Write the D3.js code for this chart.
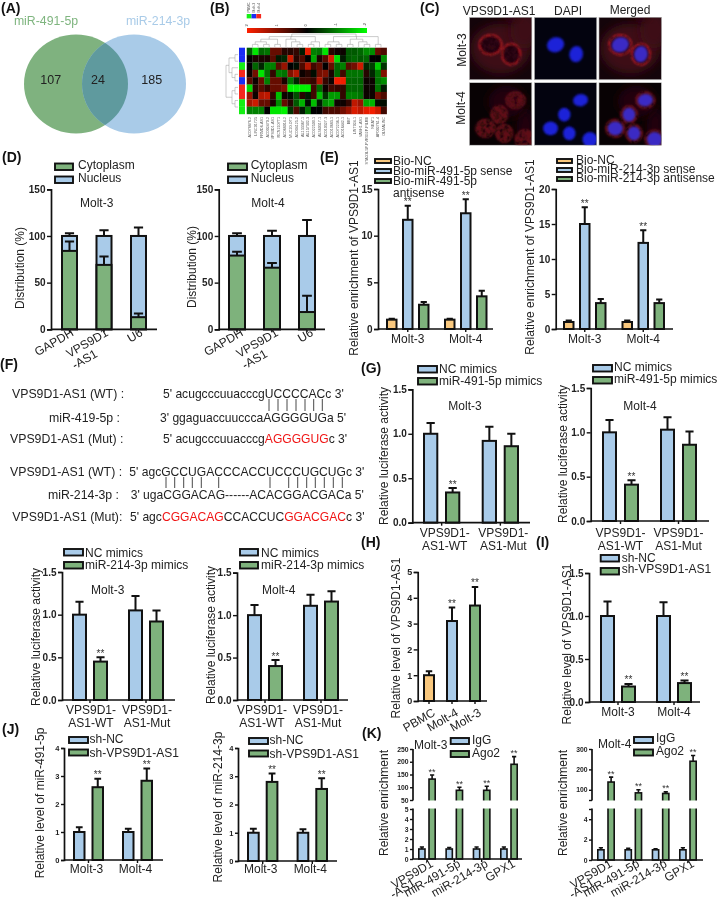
<!DOCTYPE html>
<html>
<head>
<meta charset="utf-8">
<script src="https://cdn.jsdelivr.net/npm/d3@7"></script>
<style>
  body { margin: 0; background: #fff; }
  svg { display: block; font-family: "Liberation Sans", Arial, sans-serif; filter: blur(0.35px); }
</style>
</head>
<body>
<div id="chart"></div>
<script>
// colours
var blue = "#a9cbe9", green = "#7eb27c", orange = "#f9c87e";

// (A) venn
var vennNames = ["miR-491-5p", "miR-214-3p"];
var vennCounts = [107, 24, 185];

// (B) heatmap
var heatGroups = ["PBMC", "Molt-3", "Molt-4"];
var heatRowGroup = ["Molt-3", "Molt-3", "PBMC", "Molt-4", "Molt-3", "Molt-4", "Molt-4", "PBMC", "PBMC"];
var heatCols = ["AC078876.2", "LINC01725", "FRMD6-AS1", "AC002470.2", "VPS9D1-AS1", "RCN2107T1", "AC068014.2", "MUC20-OT1",
  "AC094125.2", "AL133367.1", "AL157392.3", "AC022509.1", "AL360317.1", "AC010327.3", "AC019683.1", "AC072236.1",
  "AC016442.1", "BBT", "LINT024.1", "VASH1-AS1", "STAG3L5P-PVRIG2P-PILRB", "NEAT1", "AP002761.4", "OLMALINC"];
var heatValues = [
  [-.7, -1.8, -.8, -.9, .8, .8, .3, .3, .4, -.2, 1.8, -1, -.9, -1.8, .3, .1, .1, -.7, -.7, -.8, -1.1, -1.1, .8, .6],
  [0, .2, .2, .2, .7, -.2, -.3, 1.6, .3, .6, 0, -1.3, .2, .7, 1.7, -1.7, -.2, -.7, -.8, -.7, -.8, 0, 0, -1.1],
  [0, -.8, -.3, -1, -1, .7, 1.2, 0, -.1, .6, 1.4, .5, .8, 0, .8, -.8, -1, .7, .9, 1.6, -.3, -.5, -1.6, -.4],
  [.1, .9, -1.8, -.9, .4, -1, -.9, 1, 1.4, .1, .3, -.1, .9, 1, .2, -.8, .5, -.9, -.9, -.9, .3, -.3, -.9, 1],
  [.7, .1, .8, -1, .8, .8, .2, -.9, -.3, .5, .5, .4, 1.4, .4, .1, 1.9, 1.9, -.8, -.8, -.8, .1, .1, -.9, -1.1],
  [-1.7, .3, .7, .4, .8, .8, 1, -1.9, -1.9, -1.9, -1.9, .5, -.8, .1, .5, .4, .4, -.8, -.8, -.8, .1, .1, -.9, -.2],
  [1.2, .1, 1.4, 1.5, .4, -1.5, .1, -.1, -.6, .3, -.2, .5, -1.5, -.4, -1.2, -1.2, .4, -1, -1, -.9, .1, .1, .9, .6],
  [1.3, 1.6, .8, .8, .2, -1.1, .8, .3, -.7, -1.4, -.1, -1.5, -.2, -1.1, -1.3, .1, .1, .4, 1.5, 1.2, -1.3, -1.4, -.1, -.1],
  [-1, -1, -1, 0, -1.8, -1.8, -1.9, -.4, .6, -.2, -.9, 0, 0, .5, .6, .6, .9, 1.2, 1.7, 1.5, 1.8, 1.9, 1.6, .5]
];
var colTree = [[[[[0, 1], [2, 3]], [4, 5]], [6, [7, [8, 9]]], [[10, 11], 12]], [[[13, 14], [15, 16]], [[17, 18], [19, [20, 21]]], [22, 23]]];
var rowTree = [[[0, 1], [2, [3, 4]]], [[5, 6], [7, 8]]];

// (D) distribution
var distCats = ["GAPDH", "VPS9D1\n-AS1", "U6"];
var distTotal = [100, 100, 100];
var d3Cyto = [84, 69, 13], d3CytoTop = [94, 78, 17], d3TotalTop = [103, 106, 109];
var d4Cyto = [79, 66, 18.5], d4CytoTop = [83, 71, 36], d4TotalTop = [103, 105.5, 117];

var molts = ["Molt-3", "Molt-4"];

// (E) pull down
var e491Series = ["Bio-NC", "Bio-miR-491-5p sense", "Bio-miR-491-5p\nantisense"];
var e491Values = [[1, 1], [11.7, 12.4], [2.6, 3.5]];
var e491Tops = [[1.1, 1.1], [13.2, 13.9], [2.9, 4.1]];
var e214Series = ["Bio-NC", "Bio-miR-214-3p sense", "Bio-miR-214-3p antisense"];
var e214Values = [[1, 1], [15, 12.3], [3.7, 3.7]];
var e214Tops = [[1.2, 1.2], [17.4, 14.1], [4.3, 4.2]];

// (F) sequences
var seq491 = [
  ["VPS9D1-AS1 (WT) :", "5' acugcccuuacccgUCCCCACc 3'", ""],
  ["miR-419-5p :", "3' ggaguaccuucccaAGGGGUGa 5'", ""],
  ["VPS9D1-AS1 (Mut) :", "5' acugcccuuacccg", "AGGGGUG", "c 3'"]
];
var seq214 = [
  ["VPS9D1-AS1 (WT) :", "5' agcGCCUGACCCACCUCCCUGCUGc 3'", ""],
  ["miR-214-3p :", "3' ugaCGGACAG------ACACGGACGACa 5'", ""],
  ["VPS9D1-AS1 (Mut):", "5' agc", "CGGACAG", "CCACCUC", "GGACGAC", "c 3'"]
];

// (G) luciferase
var lucCats = ["VPS9D1-\nAS1-WT", "VPS9D1-\nAS1-Mut"];
var lucSeries491 = ["NC mimics", "miR-491-5p mimics"];
var lucSeries214 = ["NC mimics", "miR-214-3p mimics"];
var g491m3 = [[1, .92], [.34, .86]], g491m3Top = [[1.12, 1.08], [.39, 1]];
var g491m4 = [[1, 1.03], [.41, .86]], g491m4Top = [[1.14, 1.17], [.46, 1.01]];
var g214m3 = [[1, 1.05], [.45, .92]], g214m3Top = [[1.15, 1.22], [.5, 1.05]];
var g214m4 = [[1, 1.11], [.4, 1.16]], g214m4Top = [[1.12, 1.24], [.47, 1.28]];

// (H) expression
var hCats = ["PBMC", "Molt-4", "Molt-3"];
var hValues = [[1, 3.1, 3.7]], hTops = [[1.15, 3.62, 4.42]];

// (I, J) knockdown
var shSeries = ["sh-NC", "sh-VPS9D1-AS1"];
var iValues = [[1, 1], [.18, .22]], iTops = [[1.17, 1.16], [.21, .25]];
var j491Values = [[1, 1], [2.6, 2.83]], j491Tops = [[1.17, 1.12], [2.9, 3.27]];
var j214Values = [[1, 1], [2.8, 2.55]], j214Tops = [[1.14, 1.12], [3.1, 2.93]];

// (K) RIP
var kCats = ["VPS9D1\n-AS1", "miR-491-5p", "miR-214-3p", "GPX1"];
var kSeries = ["IgG", "Ago2"];
var kM3 = [[1, 1, 1, 1], [132, 88, 88, 190]], kM3Top = [[1.2, 1.15, 1.2, 1.2], [148, 100, 104, 220]];
var kM4 = [[1, 1, 1, 1], [138, 85, 82, 240]], kM4Top = [[1.2, 1.15, 1.1, 1.2], [162, 100, 90, 268]];

var svg = d3.select("#chart").append("svg")
  .attr("width", 720)
  .attr("height", 903);

var defs = svg.append("defs");

function text(str, x, y, size, opts) {
  opts = opts || {};
  var t = svg.append("text")
    .attr("x", x)
    .attr("y", y)
    .attr("font-size", size)
    .attr("fill", opts.fill || "#222")
    .attr("text-anchor", opts.anchor || "start")
    .attr("font-weight", opts.weight || "normal")
    .text(str);
  if (opts.rotate) t.attr("transform", "rotate(" + opts.rotate + "," + x + "," + y + ")");
  return t;
}

// panel letters
[["(A)", 1, 13], ["(B)", 210, 13], ["(C)", 420, 13], ["(D)", 2, 162], ["(E)", 320, 162], ["(F)", 0, 369],
 ["(G)", 361, 373], ["(H)", 361, 547], ["(I)", 536, 547], ["(J)", 2, 734], ["(K)", 362, 738]].forEach(function(d) {
  text(d[0], d[1], d[2], 14, {weight: "bold", fill: "#111"});
});

/* ---------- A: venn ---------- */
var vennX = d3.scaleLinear().domain([0, 1]).range([76, 134]);
defs.append("clipPath").attr("id", "vennLeft")
  .append("ellipse").attr("cx", vennX(0)).attr("cy", 84).attr("rx", 52).attr("ry", 49.5);
svg.selectAll(".venn").data([[0, "#7fb27f"], [1, "#a9cbe8"]]).enter().append("ellipse")
  .attr("class", "venn")
  .attr("cx", function(d) { return vennX(d[0]); })
  .attr("cy", 84).attr("rx", 52).attr("ry", 49.5)
  .style("fill", function(d) { return d[1]; });
svg.append("ellipse")
  .attr("clip-path", "url(#vennLeft)")
  .attr("cx", vennX(1)).attr("cy", 84).attr("rx", 52).attr("ry", 49.5)
  .style("fill", "#5f9a9e");
text(vennNames[0], 46, 25, 12.3, {anchor: "middle", fill: "#7fb57f"});
text(vennNames[1], 158, 25, 12.3, {anchor: "middle", fill: "#a9cbe8"});
[50.7, 98, 151.7].forEach(function(x, i) {
  text(vennCounts[i], x, 83.5, 12.5, {anchor: "middle"});
});

/* ---------- B: heatmap ---------- */
var heatX = d3.scaleBand().domain(d3.range(heatCols.length)).range([246.7, 386.7]);
var heatY = d3.scaleBand().domain(d3.range(heatValues.length)).range([47.7, 114]);
var heatColor = d3.scaleLinear().domain([-2, 0, 2]).range(["#00ff00", "#000000", "#ff2000"]);
var groupColor = d3.scaleOrdinal().domain(heatGroups).range(["#14f014", "#1a2cf5", "#f5281e"]);

heatValues.forEach(function(row, r) {
  svg.selectAll(".h" + r).data(row).enter().append("rect")
    .attr("class", "h" + r)
    .attr("x", function(d, c) { return heatX(c); })
    .attr("y", heatY(r))
    .attr("width", heatX.bandwidth() + 0.2)
    .attr("height", heatY.bandwidth() + 0.2)
    .style("fill", function(d) { return heatColor(d); });
});

// row colour strip
svg.selectAll(".strip").data(heatRowGroup).enter().append("rect")
  .attr("class", "strip")
  .attr("x", 239).attr("width", 6)
  .attr("y", function(d, i) { return heatY(i); })
  .attr("height", heatY.bandwidth() + 0.2)
  .style("fill", function(d) { return groupColor(d); });

// column names
svg.selectAll(".colName").data(heatCols).enter().append("text")
  .attr("class", "colName")
  .attr("font-size", 3.7)
  .attr("fill", "#555")
  .attr("text-anchor", "end")
  .attr("transform", function(d, i) {
    return "translate(" + (heatX(i) + 4.3) + ",117) rotate(-90)";
  })
  .text(function(d) { return d; });

// dendrograms
function tree(nested, w, h) {
  var root = d3.hierarchy(nested, function(d) { return Array.isArray(d) ? d : null; });
  d3.cluster().size([w, h]).separation(function() { return 1; })(root);
  return root;
}
var bw = heatX.bandwidth();
var colRoot = tree(colTree, 140 - bw, 13);
svg.append("g").attr("transform", "translate(" + (246.7 + bw / 2) + ",34)")
  .selectAll("path").data(colRoot.links()).enter().append("path")
  .attr("d", function(l) { return "M" + l.source.x + "," + l.source.y + "H" + l.target.x + "V" + l.target.y; })
  .style("fill", "none").style("stroke", "#999").style("stroke-width", 0.5);
var rowRoot = tree(rowTree, 66.3 - heatY.bandwidth(), 12);
svg.append("g").attr("transform", "translate(226," + (47.7 + heatY.bandwidth() / 2) + ")")
  .selectAll("path").data(rowRoot.links()).enter().append("path")
  .attr("d", function(l) { return "M" + l.source.y + "," + l.source.x + "V" + l.target.x + "H" + l.target.y; })
  .style("fill", "none").style("stroke", "#999").style("stroke-width", 0.5);

// colour key and group key
var grad = defs.append("linearGradient").attr("id", "heatKey");
[[0, "#ff2000"], [.5, "#000000"], [1, "#00ff00"]].forEach(function(s) {
  grad.append("stop").attr("offset", s[0]).attr("stop-color", s[1]);
});
svg.append("rect").attr("x", 247).attr("y", 28).attr("width", 120).attr("height", 5).style("fill", "url(#heatKey)");
var keyX = d3.scaleLinear().domain([2, -2]).range([247, 365]);
[2, 1, 0, -1, -2].forEach(function(v) {
  text(v, keyX(v) + 1, 26.5, 4, {rotate: -90, fill: "#444"});
});
heatGroups.forEach(function(g, i) {
  svg.append("rect").attr("x", 246.7 + i * 4.8).attr("y", 14).attr("width", 4.8).attr("height", 4.4).style("fill", groupColor(g));
  text(g, 250.2 + i * 4.8, 12.5, 3.5, {rotate: -90, fill: "#444"});
});

/* ---------- C: micrographs ---------- */
var micColX = [469.3, 534.3, 599], micRowY = [17.3, 82.7];
var nuclei = [
  [[34, 44, 14, 12, -20], [67, 59, 11, 13, 10]],
  [[74, 28, 12, 10, -10], [48, 51, 10, 11, 0], [26, 73, 12, 11, 0], [56, 81, 10, 11, 0], [89, 91, 12, 12, 0]]
];
var micHaze = [
  [[50, 50, 48, 40], [88, 20, 22, 30], [66, 0, 14, 5]],
  [[90, 70, 14, 30], [60, 30, 30, 25]]
];
var blur = defs.append("filter").attr("id", "soft").attr("x", "-50%").attr("y", "-50%").attr("width", "200%").attr("height", "200%");
blur.append("feGaussianBlur").attr("stdDeviation", 0.9);
var blurBig = defs.append("filter").attr("id", "softBig").attr("x", "-50%").attr("y", "-50%").attr("width", "200%").attr("height", "200%");
blurBig.append("feGaussianBlur").attr("stdDeviation", 5);
// mottled stain inside the cells
var mottle = defs.append("filter").attr("id", "mottle").attr("x", "-30%").attr("y", "-30%").attr("width", "160%").attr("height", "160%");
mottle.append("feGaussianBlur").attr("in", "SourceGraphic").attr("stdDeviation", 1.1).attr("result", "b");
mottle.append("feTurbulence").attr("type", "fractalNoise").attr("baseFrequency", 0.22).attr("numOctaves", 2).attr("seed", 4);
mottle.append("feGaussianBlur").attr("stdDeviation", 0.6);
mottle.append("feColorMatrix").attr("values", "0 0 0 0 0  0 0 0 0 0  0 0 0 0 0  1.6 0 0 0 0").attr("result", "n");
mottle.append("feComposite").attr("in", "b").attr("in2", "n").attr("operator", "in");

micRowY.forEach(function(py, r) {
  micColX.forEach(function(px, c) {
    var sx = d3.scaleLinear().domain([0, 100]).range([px, px + 62.5]);
    var sy = d3.scaleLinear().domain([0, 100]).range([py, py + 62.5]);
    var scale = 0.625;
    var id = "mic" + r + c;
    defs.append("clipPath").attr("id", id).append("rect").attr("x", px).attr("y", py).attr("width", 62.5).attr("height", 62.5);
    var g = svg.append("g").attr("clip-path", "url(#" + id + ")");
    g.append("rect").attr("x", px).attr("y", py).attr("width", 62.5).attr("height", 62.5)
      .style("fill", c == 1 ? "#03030f" : (r == 0 ? "#14040a" : "#080204"));
    if (c != 1) {
      g.selectAll(".haze").data(micHaze[r]).enter().append("ellipse")
        .attr("cx", function(d) { return sx(d[0]); })
        .attr("cy", function(d) { return sy(d[1]); })
        .attr("rx", function(d) { return d[2] * scale; })
        .attr("ry", function(d) { return d[3] * scale; })
        .attr("filter", "url(#softBig)")
        .style("fill", r == 0 ? "#3c0e16" : "#22050a");
      g.selectAll(".ring").data(nuclei[r]).enter().append("ellipse")
        .attr("cx", function(d) { return sx(d[0]); })
        .attr("cy", function(d) { return sy(d[1]); })
        .attr("rx", function(d) { return (d[2] + 4) * scale; })
        .attr("ry", function(d) { return (d[3] + 4) * scale; })
        .attr("filter", "url(#mottle)")
        .style("fill", r == 0 ? "#22060a" : "#5e0e18")
        .style("stroke", r == 0 ? "#b01c24" : "#6a1018")
        .style("stroke-width", r == 0 ? 1.7 : 1);
    }
    if (c != 0) {
      g.selectAll(".nuc").data(nuclei[r]).enter().append("ellipse")
        .attr("cx", function(d) { return sx(d[0]); })
        .attr("cy", function(d) { return sy(d[1]); })
        .attr("rx", function(d) { return d[2] * scale; })
        .attr("ry", function(d) { return d[3] * scale; })
        .attr("transform", function(d) { return "rotate(" + d[4] + "," + sx(d[0]) + "," + sy(d[1]) + ")"; })
        .attr("filter", "url(#soft)")
        .style("fill", c == 1 ? "#1a20d8" : "#3a2cc4");
    }
    svg.append("rect").attr("x", px).attr("y", py).attr("width", 62.5).attr("height", 62.5)
      .style("fill", "none").style("stroke", "#aaa").style("stroke-width", 0.6);
  });
});
text("VPS9D1-AS1", 499, 15, 12, {anchor: "middle"});
text("DAPI", 568, 15, 12, {anchor: "middle"});
text("Merged", 630, 14, 12, {anchor: "middle"});
text("Molt-3", 466, 50, 12, {anchor: "middle", rotate: -90});
text("Molt-4", 465, 108, 12, {anchor: "middle", rotate: -90});

/* ---------- F: sequences ---------- */
function seqLine(parts, x, y) {
  var t = text("", x, y, 12.1);
  parts.forEach(function(p, i) {
    t.append("tspan").attr("fill", i % 2 == 1 ? "#f01414" : "#222").text(p);
  });
}
text(seq491[0][0], 12, 397.7, 12.3);
text(seq491[1][0], 120, 421.7, 12.3, {anchor: "end"});
text(seq491[2][0], 10, 442.7, 12.3);
seqLine([seq491[0][1]], 163, 397.7);
seqLine([seq491[1][1]], 160, 421.7);
seqLine(seq491[2].slice(1, 4), 163, 442.7);
text(seq214[0][0], 10, 475.7, 12.3);
text(seq214[1][0], 119, 499.3, 12.3, {anchor: "end"});
text(seq214[2][0], 12.3, 520.7, 12.3);
seqLine([seq214[0][1]], 129.3, 475.7);
seqLine([seq214[1][1]], 130.7, 499.3);
seqLine(seq214[2].slice(1), 130, 520.7);

function pairLines(xs, y0, y1) {
  svg.append("g").selectAll("line").data(xs).enter().append("line")
    .attr("x1", function(d) { return d; }).attr("x2", function(d) { return d; })
    .attr("y1", y0).attr("y2", y1)
    .style("stroke", "#333").style("stroke-width", 0.9);
}
pairLines([269, 278, 287, 296, 305, 313.7, 322.3], 399, 411);
pairLines([166, 174.7, 183.7, 192.3, 201.3, 218.7, 270, 288.7, 297.7, 306.7, 315.3, 324.3, 333.3, 342.3], 477, 488);

/* ---------- bar panels ---------- */
function barPanel(c) {
  var y = d3.scaleLinear().domain(c.yDomain).range(c.yRange);
  var m = c.groups.length, n = c.series.length;
  var groupW = n * c.barW + (n - 1) * c.barGap;
  var gapG = m > 1 ? (c.bars[1] - c.bars[0] - m * groupW) / (m - 1) : 0;
  var x0 = d3.scaleBand().domain(c.groups).range(c.bars).paddingInner(gapG / (groupW + gapG));
  var x1 = d3.scaleBand().domain(c.series).range([0, x0.bandwidth()]).paddingInner(c.barGap / (c.barW + c.barGap));
  var sw = c.sw || 2;
  var base = c.yRange[0];
  var g = svg.append("g");
  var line2 = c.line2 || [-20, 12];

  function bar(v, color, gi, si) {
    g.append("rect")
      .attr("x", x0(c.groups[gi]) + x1(c.series[si]) + sw / 2)
      .attr("width", x1.bandwidth() - sw)
      .attr("y", y(v))
      .attr("height", base - y(v))
      .style("fill", color)
      .style("stroke", "#111")
      .style("stroke-width", sw);
  }
  function whisker(v, top, gi, si) {
    var cx = x0(c.groups[gi]) + x1(c.series[si]) + x1.bandwidth() / 2;
    var cap = x1.bandwidth() * 0.27;
    g.append("path")
      .attr("d", d3.line()([[cx, y(v)], [cx, y(top)]]) + d3.line()([[cx - cap, y(top)], [cx + cap, y(top)]]))
      .style("fill", "none")
      .style("stroke", "#111")
      .style("stroke-width", sw);
  }

  c.values.forEach(function(vals, si) {
    vals.forEach(function(v, gi) {
      var color = c.groupColors ? c.groupColors[gi] : c.colors[si];
      whisker(v, c.tops[si][gi], gi, si);
      bar(v, color, gi, si);
      if (c.stack) {
        bar(c.stack[gi], green, gi, si);
        whisker(c.stack[gi], c.stackTop[gi], gi, si);
      }
    });
  });

  // gap of a broken axis
  if (c.gap) {
    g.append("rect").attr("x", c.axisX - 6).attr("width", c.xEnd - c.axisX + 8)
      .attr("y", c.gap[0]).attr("height", c.gap[1] - c.gap[0])
      .style("fill", "#fff");
  }

  // y axis
  var yAxis = d3.axisLeft(y)
    .tickValues(c.ticks)
    .tickSize(c.tickLen || 4)
    .tickPadding(1.5)
    .tickFormat(function(d) {
      if (c.hideTicks && c.hideTicks.indexOf(d) >= 0) return "";
      return c.fmt ? d3.format(c.fmt)(d) : d;
    });
  var ag = svg.append("g").attr("transform", "translate(" + c.axisX + ",0)").call(yAxis);
  ag.selectAll("line").style("stroke", "#111").style("stroke-width", 1.4);
  ag.selectAll("text").attr("font-size", c.tickFont || 10).attr("font-weight", "bold").attr("fill", "#222");
  if (c.gap) {
    ag.select(".domain").remove();
    [[c.yRange[0], c.gap[1]], [c.gap[0], c.yRange[c.yRange.length - 1]]].forEach(function(s) {
      svg.append("line").attr("x1", c.axisX).attr("x2", c.axisX).attr("y1", s[0]).attr("y2", s[1])
        .style("stroke", "#111").style("stroke-width", 1.7);
    });
  } else {
    ag.select(".domain").style("stroke", "#111").style("stroke-width", 1.7);
  }

  // x axis
  var xg = svg.append("g").attr("transform", "translate(0," + base + ")")
    .call(d3.axisBottom(x0).tickSize(3).tickFormat(""));
  xg.select(".domain").remove();
  xg.selectAll("line").style("stroke", "#111").style("stroke-width", 1.4);
  svg.append("line").attr("x1", c.axisX).attr("x2", c.xEnd).attr("y1", base).attr("y2", base)
    .style("stroke", "#111").style("stroke-width", 1.7);

  // category labels, flat or slanted
  c.groups.forEach(function(name, i) {
    var cx = x0(name) + x0.bandwidth() / 2 + (c.labelDx || 0);
    name.split("\n").forEach(function(line, k) {
      if (c.slant) {
        svg.append("text")
          .attr("font-size", c.labelFont || 12)
          .attr("fill", "#222")
          .attr("text-anchor", "end")
          .attr("transform", "translate(" + cx + "," + c.labelY + ") rotate(-30) translate(" + (line2[0] * k) + "," + (line2[1] * k) + ")")
          .text(line);
      } else {
        text(line, cx, c.labelY + k * 12.7, c.labelFont || 12, {anchor: "middle"});
      }
    });
  });

  // significance stars
  if (c.stars) {
    c.stars.forEach(function(s) {
      var cx = x0(c.groups[s[1]]) + x1(c.series[s[0]]) + x1.bandwidth() / 2;
      text("**", cx, y(c.tops[s[0]][s[1]]) - 0.5, c.starFont || 10, {anchor: "middle", fill: "#333"});
    });
  }

  if (c.title) text(c.title[0], c.title[1], c.title[2], 12, {anchor: "middle"});
  if (c.yLabel) text(c.yLabel[0], c.yLabel[1], c.yLabel[2], 12, {anchor: "middle", rotate: -90});
}

function legend(labels, colors, x0, x1, tx, tops, h, bases) {
  labels.forEach(function(name, i) {
    svg.append("rect").attr("x", x0).attr("y", tops[i]).attr("width", x1 - x0).attr("height", h)
      .style("fill", colors[i]).style("stroke", "#111").style("stroke-width", 1.9);
    name.split("\n").forEach(function(line, k) {
      text(line, tx, bases[i] + k * 12, 12);
    });
  });
}

var twoCols = [blue, green], threeCols = [orange, blue, green];

/* D */
barPanel({axisX: 51, xEnd: 157, yDomain: [0, 150], yRange: [329.3, 189.3], ticks: [0, 50, 100, 150],
  groups: distCats, series: ["Nucleus"], values: [distTotal], tops: [d3TotalTop], colors: [blue],
  stack: d3Cyto, stackTop: d3CytoTop, bars: [61, 147], barW: 17, barGap: 0, slant: true, labelDx: 5, labelY: 335,
  line2: [-20, 13], title: ["Molt-3", 96.7, 207], yLabel: ["Distribution (%)", 24, 268]});
barPanel({axisX: 218.7, xEnd: 325, yDomain: [0, 150], yRange: [329.3, 189.3], ticks: [0, 50, 100, 150],
  groups: distCats, series: ["Nucleus"], values: [distTotal], tops: [d4TotalTop], colors: [blue],
  stack: d4Cyto, stackTop: d4CytoTop, bars: [228, 316], barW: 18, barGap: 0, slant: true, labelDx: 7, labelY: 335,
  line2: [-20, 13], title: ["Molt-4", 268, 207], yLabel: ["Distribution (%)", 196, 267]});
legend(["Cytoplasm", "Nucleus"], [green, blue], 55, 73, 78, [163.5, 176.5], 6.5, [169, 182]);
legend(["Cytoplasm", "Nucleus"], [green, blue], 228, 247, 250.7, [163.5, 176.5], 6.5, [169, 182]);

/* E */
barPanel({axisX: 378, xEnd: 493, yDomain: [0, 15], yRange: [329, 189], ticks: [0, 5, 10, 15],
  groups: molts, series: e491Series, values: e491Values, tops: e491Tops, colors: threeCols,
  stars: [[1, 0], [1, 1]], bars: [386, 487.5], barW: 11.5, barGap: 4.5, labelY: 343,
  yLabel: ["Relative enrichment of VPS9D1-AS1", 358, 258]});
barPanel({axisX: 555.7, xEnd: 673, yDomain: [0, 20], yRange: [329, 189], ticks: [0, 5, 10, 15, 20],
  groups: molts, series: e214Series, values: e214Values, tops: e214Tops, colors: threeCols,
  stars: [[1, 0], [1, 1]], bars: [563, 665], barW: 11.5, barGap: 4.5, labelY: 343,
  yLabel: ["Relative enrichment of VPS9D1-AS1", 534, 257]});
legend(e491Series, threeCols, 375, 391, 393, [159, 169, 179], 4, [165, 175, 185]);
legend(e214Series, threeCols, 557, 572, 576, [159, 168, 177], 4, [164, 173, 182]);

/* G */
barPanel({axisX: 412.3, xEnd: 530, yDomain: [0, 1.5], yRange: [522.7, 389.3], ticks: [0, .5, 1, 1.5], fmt: ".1f",
  groups: lucCats, series: lucSeries491, values: g491m3, tops: g491m3Top, colors: twoCols,
  stars: [[1, 0]], bars: [423, 519], barW: 15.3, barGap: 6.7, labelY: 537, labelDx: 3,
  title: ["Molt-3", 465, 410], yLabel: ["Relative luciferase activity", 388, 456]});
barPanel({axisX: 590.7, xEnd: 709, yDomain: [0, 1.5], yRange: [521, 388], ticks: [0, .5, 1, 1.5], fmt: ".1f",
  groups: lucCats, series: lucSeries491, values: g491m4, tops: g491m4Top, colors: twoCols,
  stars: [[1, 0]], bars: [602, 697], barW: 15, barGap: 7, labelY: 537,
  title: ["Molt-4", 640, 410], yLabel: ["Relative luciferase activity", 567, 454]});
legend(lucSeries491, twoCols, 418, 437, 439, [366, 378], 6.5, [372.5, 384.5]);
legend(lucSeries491, twoCols, 593, 612, 614, [365, 377], 6.5, [371, 383]);

barPanel({axisX: 62, xEnd: 175, yDomain: [0, 1.5], yRange: [700, 572], ticks: [0, .5, 1, 1.5], fmt: ".1f",
  groups: lucCats, series: lucSeries214, values: g214m3, tops: g214m3Top, colors: twoCols,
  stars: [[1, 0]], bars: [72, 164], barW: 15, barGap: 6, labelY: 714, labelDx: 1,
  title: ["Molt-3", 107.7, 594], yLabel: ["Relative luciferase activity", 40, 637]});
barPanel({axisX: 237, xEnd: 348, yDomain: [0, 1.5], yRange: [700, 572.7], ticks: [0, .5, 1, 1.5], fmt: ".1f",
  groups: lucCats, series: lucSeries214, values: g214m4, tops: g214m4Top, colors: twoCols,
  stars: [[1, 0]], bars: [247, 339], barW: 15, barGap: 6, labelY: 714, labelDx: -3,
  title: ["Molt-4", 278.7, 594], yLabel: ["Relative luciferase activity", 215, 635]});
legend(lucSeries214, twoCols, 64, 83, 85, [549, 562], 6.5, [557, 569]);
legend(lucSeries214, twoCols, 240, 258, 261, [549, 562], 6.5, [557, 569]);

/* H */
barPanel({axisX: 417.7, xEnd: 487, yDomain: [0, 5], yRange: [701, 572], ticks: [0, 1, 2, 3, 4, 5], tickFont: 9,
  groups: hCats, series: ["level"], values: hValues, tops: hTops, groupColors: threeCols,
  stars: [[0, 1], [0, 2]], bars: [423, 481], barW: 12, barGap: 0, slant: true, labelDx: 7, labelY: 715,
  yLabel: ["Relative level of VPS9D1-AS1", 400, 638]});

/* I */
barPanel({axisX: 589, xEnd: 700, yDomain: [0, 1.5], yRange: [702, 573], ticks: [0, .5, 1, 1.5], fmt: ".1f",
  groups: molts, series: shSeries, values: iValues, tops: iTops, colors: twoCols,
  stars: [[1, 0], [1, 1]], bars: [600, 692], barW: 15, barGap: 6, labelY: 716,
  yLabel: ["Relative level of VPS9D1-AS1", 571, 644]});
legend(shSeries, twoCols, 600.7, 619, 621.7, [555, 568], 6.5, [562, 573]);

/* J */
barPanel({axisX: 64, xEnd: 163, yDomain: [0, 4], yRange: [860, 748], ticks: [0, 1, 2, 3, 4], tickFont: 7.5, tickLen: 3,
  groups: molts, series: shSeries, values: j491Values, tops: j491Tops, colors: twoCols,
  stars: [[1, 0], [1, 1]], bars: [73, 153], barW: 12.5, barGap: 6, labelY: 873, labelDx: -2,
  yLabel: ["Relative level of miR-491-5p", 44, 803]});
barPanel({axisX: 238, xEnd: 337, yDomain: [0, 4], yRange: [861, 748], ticks: [0, 1, 2, 3, 4], tickFont: 7.5, tickLen: 3,
  groups: molts, series: shSeries, values: j214Values, tops: j214Tops, colors: twoCols,
  stars: [[1, 0], [1, 1]], bars: [247, 328], barW: 12.7, barGap: 6, labelY: 873, labelDx: -2,
  yLabel: ["Relative level of miR-214-3p", 222, 807]});
legend(shSeries, twoCols, 69, 88, 89.5, [737, 749.5], 6, [743, 757]);
legend(shSeries, twoCols, 249, 268, 269.5, [738, 750.5], 6, [744, 758]);

/* K */
barPanel({axisX: 413, xEnd: 522, yDomain: [0, 5, 50, 250], yRange: [859, 809, 800, 749],
  ticks: [0, 1, 2, 3, 4, 5, 50, 100, 150, 200, 250], tickFont: 6.8, tickLen: 3, sw: 1.6,
  groups: kCats, series: kSeries, values: kM3, tops: kM3Top, colors: twoCols, gap: [800.5, 808.5],
  stars: [[1, 0], [1, 1], [1, 2], [1, 3]], starFont: 9,
  bars: [418, 518], barW: 7.8, barGap: 2.4, slant: true, labelDx: 7, labelY: 866, line2: [-25, 8],
  yLabel: ["Relative enrichment", 388, 803]});
barPanel({axisX: 592, xEnd: 703, yDomain: [0, 5, 50, 300], yRange: [860, 809, 800, 749],
  ticks: [0, 2, 4, 5, 50, 100, 200, 300], hideTicks: [5, 50], tickFont: 6.8, tickLen: 3, sw: 1.6,
  groups: kCats, series: kSeries, values: kM4, tops: kM4Top, colors: twoCols, gap: [800.5, 808.5],
  stars: [[1, 0], [1, 1], [1, 2], [1, 3]], starFont: 9,
  bars: [597, 697], barW: 7.8, barGap: 2.4, slant: true, labelDx: 7, labelY: 866, line2: [-25, 8],
  yLabel: ["Relative enrichment", 567, 803]});
text("Molt-3", 414, 749, 12);
text("Molt-4", 598, 748, 12);
legend(kSeries, twoCols, 450.7, 469, 472, [738, 751], 6, [744, 757]);
legend(kSeries, twoCols, 634, 653, 656, [737, 749.5], 6, [742, 755]);
</script>
</body>
</html>
